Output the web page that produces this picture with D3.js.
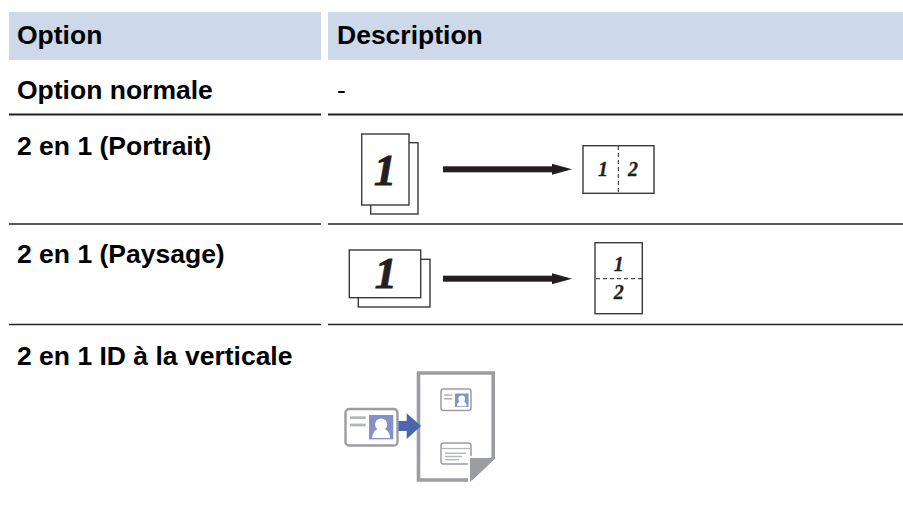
<!DOCTYPE html>
<html lang="en">
<head>
<meta charset="UTF-8">
<script src="https://d3js.org/d3.v7.min.js"></script>
<title>Options</title>
<style>
  body { margin: 0; background: #fff; }
  svg { display: block; }
  text { font-family: "Liberation Sans", Arial, sans-serif; fill: #000; }
  .cell { font-size: 26.5px; font-weight: bold; }
  .digit { font-family: "Liberation Serif", serif; font-weight: bold; font-style: italic; fill: #231f20; stroke: #231f20; text-anchor: middle; }
</style>
</head>
<body>
<script>
// table content
var headers = ["Option", "Description"];
var options = ["Option normale", "2 en 1 (Portrait)", "2 en 1 (Paysage)", "2 en 1 ID à la verticale"];
var descriptions = ["-", "", "", ""];

var width = 903, height = 513;

// layout
var colX = d3.scaleOrdinal().domain([0, 1]).range([9, 328]);
var colW = d3.scaleOrdinal().domain([0, 1]).range([312, 575]);
var colText = d3.scaleOrdinal().domain([0, 1]).range([17, 337]);
var rowBaseline = d3.scaleOrdinal().domain(options).range([99, 155, 263, 365]);
var ruleY = [114.5, 224, 324.5];

var svg = d3.select("body").append("svg")
    .attr("width", width)
    .attr("height", height);

// header band
svg.selectAll(".head").data(headers).enter().append("rect")
    .attr("class", "head")
    .attr("x", function(d, i) { return colX(i); })
    .attr("y", 12)
    .attr("width", function(d, i) { return colW(i); })
    .attr("height", 48)
    .attr("fill", "#cdd8e9");

svg.selectAll(".headText").data(headers).enter().append("text")
    .attr("class", "cell headText")
    .attr("x", function(d, i) { return colText(i); })
    .attr("y", 44)
    .text(function(d) { return d; });

// first column
svg.selectAll(".opt").data(options).enter().append("text")
    .attr("class", "cell opt")
    .attr("x", colText(0))
    .attr("y", function(d) { return rowBaseline(d); })
    .text(function(d) { return d; });

// second column text
svg.selectAll(".desc").data(descriptions).enter().append("text")
    .attr("x", colText(1))
    .attr("y", function(d, i) { return rowBaseline(options[i]); })
    .attr("font-size", 26.5)
    .text(function(d) { return d; });

// row rules, one per column
ruleY.forEach(function(y, r) {
  headers.forEach(function(h, i) {
    svg.append("line")
        .attr("x1", colX(i))
        .attr("x2", colX(i) + colW(i))
        .attr("y1", y)
        .attr("y2", y)
        .attr("stroke", "#222")
        .attr("stroke-width", r == 0 ? 1.8 : 1.4);
  });
});

// small helpers for the illustrations
function page(x, y, w, h) {
  svg.append("rect")
      .attr("x", x).attr("y", y).attr("width", w).attr("height", h)
      .attr("fill", "#fff").attr("stroke", "#3a3a3a").attr("stroke-width", 1.4);
}
function digit(t, x, y, size) {
  svg.append("text").attr("class", "digit")
      .attr("x", x).attr("y", y).attr("font-size", size)
      .attr("stroke-width", size > 30 ? 1 : 0.3)
      .text(t);
}
function dashed(x1, y1, x2, y2) {
  svg.append("line")
      .attr("x1", x1).attr("y1", y1).attr("x2", x2).attr("y2", y2)
      .attr("stroke", "#222").attr("stroke-width", 1).attr("stroke-dasharray", "4,3");
}
function arrow(x1, x2, y) {
  svg.append("rect")
      .attr("x", x1).attr("y", y - 3).attr("width", x2 - x1 - 18).attr("height", 6)
      .attr("fill", "#231f20");
  svg.append("path")
      .attr("d", d3.line()([[x2 - 20, y - 5.5], [x2, y], [x2 - 20, y + 5.5]]) + "Z")
      .attr("fill", "#231f20");
}

// portrait row
page(370.7, 142.7, 47.3, 71.3);
page(361.7, 134, 47.3, 71);
digit("1", 385, 185, 44);
arrow(443, 572, 169.3);
page(583, 145.7, 71, 47.6);
dashed(618.3, 146, 618.3, 193);
digit("1", 603, 176, 20);
digit("2", 633, 176, 20);

// landscape row
page(358.3, 259.3, 71.7, 47.7);
page(349.3, 250, 71.4, 47.7);
digit("1", 385.7, 288.3, 44);
arrow(443, 572, 278.7);
page(595, 242.7, 47.3, 71);
dashed(596, 278.7, 642, 278.7);
digit("1", 618.7, 270.7, 20);
digit("2", 618.7, 299.3, 20);

// id card illustration
var grey = "#9b9da1", lightGrey = "#b4b6ba", photoBlue = "#8590c8", arrowBlue = "#4a67ad";

function card(x, y, w, h, sw) {
  svg.append("rect")
      .attr("x", x).attr("y", y).attr("width", w).attr("height", h).attr("rx", sw * 1.6)
      .attr("fill", "#fff").attr("stroke", grey).attr("stroke-width", sw);
}
function bar(x1, x2, y, sw) {
  svg.append("line")
      .attr("x1", x1).attr("x2", x2).attr("y1", y).attr("y2", y)
      .attr("stroke", lightGrey).attr("stroke-width", sw);
}
function photo(x, y, s) {
  svg.append("rect").attr("x", x).attr("y", y).attr("width", s).attr("height", s).attr("fill", photoBlue);
  svg.append("circle").attr("cx", x + s / 2).attr("cy", y + s * 0.39).attr("r", s * 0.25).attr("fill", "#fff");
  svg.append("path")
      .attr("d", "M" + (x + s * 0.12) + "," + (y + s * 0.95) +
        "Q" + (x + s * 0.18) + "," + (y + s * 0.56) + " " + (x + s / 2) + "," + (y + s * 0.56) +
        "Q" + (x + s * 0.82) + "," + (y + s * 0.56) + " " + (x + s * 0.88) + "," + (y + s * 0.95) + "Z")
      .attr("fill", "#fff");
}

// sheet with folded corner
svg.append("path")
    .attr("d", "M418.5,373H493.2V458L470,480H418.5Z")
    .attr("fill", "#fff").attr("stroke", grey).attr("stroke-width", 3.6);
// top small card
card(441, 389, 30, 21.5, 1.5);
bar(444, 452.3, 395, 1.6);
bar(444, 452.3, 398.8, 1.6);
photo(455, 393.5, 13.5);
// bottom small card
card(441, 443, 30, 21, 1.5);
bar(442, 470, 448.5, 1.3);
bar(445, 466, 453.3, 1.4);
bar(445, 462, 456.5, 1.4);
bar(445, 459, 459.7, 1.4);
svg.append("path")
    .attr("d", "M468,456H472V482H468Z")
    .attr("fill", "#fff");
svg.append("path")
    .attr("d", "M470,458H495L470,482Z")
    .attr("fill", grey);

// big card and blue arrow
card(345.5, 409, 52, 36.5, 2.4);
bar(350, 365.7, 417.7, 2.8);
bar(350, 365.7, 425, 2.8);
photo(369, 415, 24.3);
svg.append("path")
    .attr("d", "M398.5,421H406.7V413.3L421,426L406.7,439V431H398.5Z")
    .attr("fill", arrowBlue);
</script>
</body>
</html>
